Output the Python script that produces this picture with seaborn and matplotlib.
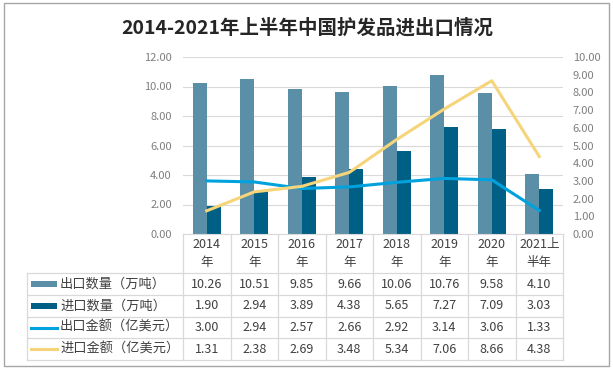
import numpy as np
import pandas as pd
import matplotlib
matplotlib.use("Agg")
import matplotlib.pyplot as plt
import matplotlib.transforms as mtransforms
from matplotlib.lines import Line2D
from matplotlib.patches import Rectangle
import seaborn as sns

# data
years = ["2014\n年", "2015\n年", "2016\n年", "2017\n年", "2018\n年", "2019\n年", "2020\n年", "2021上\n半年"]
export_qty = [10.26, 10.51, 9.85, 9.66, 10.06, 10.76, 9.58, 4.10]
import_qty = [1.90, 2.94, 3.89, 4.38, 5.65, 7.27, 7.09, 3.03]
export_amt = [3.00, 2.94, 2.57, 2.66, 2.92, 3.14, 3.06, 1.33]
import_amt = [1.31, 2.38, 2.69, 3.48, 5.34, 7.06, 8.66, 4.38]
series_names = ["出口数量（万吨）", "进口数量（万吨）", "出口金额（亿美元）", "进口金额（亿美元）"]
title = "2014-2021年上半年中国护发品进出口情况"

colors = ["#5B8FA8", "#005F84", "#00A2DE", "#F5D47A"]
text_c = "#404040"
grid_c = "#D9D9D9"
tick_c = "#7F7F7F"

plt.rcParams["font.family"] = ["Noto Sans CJK SC", "DejaVu Sans"]

W, H = 613, 370
fig = plt.figure(figsize=(W / 100, H / 100), dpi=100)


def fx(x):
    return x / W


def fy(y):
    return 1 - y / H


left, right, top, bottom = 183, 563, 57, 234
ax = fig.add_axes([fx(left), fy(bottom), fx(right - left), (bottom - top) / H])
ax2 = ax.twinx()

bars = pd.DataFrame({
    "year": years * 2,
    "value": export_qty + import_qty,
    "series": [series_names[0]] * len(years) + [series_names[1]] * len(years),
})
sns.barplot(data=bars, x="year", y="value", hue="series", palette=colors[:2],
            width=0.59, saturation=1, legend=False, ax=ax, edgecolor="none")

pos = np.arange(len(years))
sns.lineplot(x=pos, y=export_amt, ax=ax2, color=colors[2], linewidth=2.2)
sns.lineplot(x=pos, y=import_amt, ax=ax2, color=colors[3], linewidth=2.2)

ax.set_xlim(-0.5, len(years) - 0.5)
ax.set_ylim(0, 12)
ax2.set_ylim(0, 10)
ax.set_yticks(np.arange(0, 12.1, 2))
ax2.set_yticks(np.arange(0, 10.1, 1))
ax.set_yticklabels([f"{v:.2f}" for v in np.arange(0, 12.1, 2)])
ax2.set_yticklabels([f"{v:.2f}" for v in np.arange(0, 10.1, 1)])
ax.set_xticks([])
ax.set_xlabel("")
ax.set_ylabel("")
ax2.set_ylabel("")
ax.tick_params(axis="y", length=0, pad=8, labelsize=8, labelcolor=tick_c)
ax2.tick_params(axis="y", length=0, pad=7, labelsize=8, labelcolor=tick_c)
ax.yaxis.grid(True, color=grid_c, linewidth=0.8)
ax.set_axisbelow(True)
for a in (ax, ax2):
    for s in ("top", "left", "right"):
        a.spines[s].set_visible(False)
    a.spines["bottom"].set_color(grid_c)
ax2.spines["bottom"].set_visible(False)

# data table under the chart
blend = mtransforms.blended_transform_factory(ax.transData, fig.transFigure)
row_top = [273, 295, 316.7, 338.3]
row_bot = 360
tab_left = 27
lc = dict(color=grid_c, linewidth=0.9)

for i in range(len(years) + 1):
    fig.add_artist(Line2D([i - 0.5, i - 0.5], [fy(bottom), fy(row_bot)], transform=blend, **lc))
fig.add_artist(Line2D([fx(tab_left), fx(tab_left)], [fy(row_top[0]), fy(row_bot)], **lc))
for y in row_top + [row_bot]:
    fig.add_artist(Line2D([fx(tab_left), fx(right)], [fy(y), fy(y)], **lc))

for i, lab in enumerate(years):
    fig.text(i, fy((bottom + row_top[0]) / 2), lab, transform=blend, ha="center", va="center",
             fontsize=9, color=text_c, linespacing=1.45)

rows = [export_qty, import_qty, export_amt, import_amt]
edges = row_top + [row_bot]
for r, vals in enumerate(rows):
    yc = (edges[r] + edges[r + 1]) / 2
    for i, v in enumerate(vals):
        fig.text(i, fy(yc), f"{v:.2f}", transform=blend, ha="center", va="center",
                 fontsize=9, color=text_c)
    if r < 2:
        fig.add_artist(Rectangle((fx(31), fy(yc + 3.3)), fx(26), 6.6 / H,
                                 facecolor=colors[r], edgecolor="none"))
    else:
        fig.add_artist(Line2D([fx(31), fx(57)], [fy(yc), fy(yc)], color=colors[r], linewidth=2.2))
    fig.text(fx(60), fy(yc), series_names[r], ha="left", va="center", fontsize=9.5, color=text_c)

fig.text(fx(307), fy(28), title, ha="center", va="center", fontsize=14,
         fontweight="bold", color="#262626")

fig.add_artist(Rectangle((fx(4), fy(366)), fx(605), 363 / H, fill=False,
                         edgecolor="#A6A6A6", linewidth=1))

fig.savefig("out.png", dpi=100)
